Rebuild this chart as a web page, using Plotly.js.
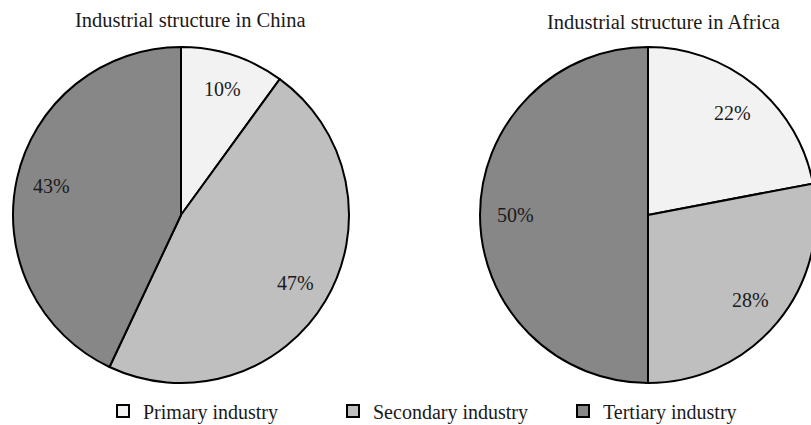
<!DOCTYPE html>
<html><head><meta charset="utf-8">
<script src="https://cdn.plot.ly/plotly-3.0.1.min.js"></script>
<style>html,body{margin:0;padding:0;overflow:hidden;background:#fff}</style>
</head><body><div id="chart"></div>
<script>
const categories = ["Primary industry", "Secondary industry", "Tertiary industry"];
const chinaValues = [10, 47, 43];
const africaValues = [22, 28, 50];
const chartTitles = ["Industrial structure in China", "Industrial structure in Africa"];
const colors = ["#f2f2f2", "#bfbfbf", "#878787"];

const W = 830, H = 425;
const font = {family: "Liberation Serif, Times New Roman, serif", color: "#1a1a1a"};

// pie placement (pixels): centre x, centre y, radius
const pies = [
  {vals: chinaValues, cx: 181, cy: 215, r: 168, title: chartTitles[0], tx: 190, ty: 20},
  {vals: africaValues, cx: 648, cy: 215, r: 168, title: chartTitles[1], tx: 663, ty: 22}
];

const data = [];
const annotations = [];
pies.forEach((p, i) => {
  data.push({
    type: "pie", values: p.vals, labels: categories, sort: false,
    direction: "clockwise", rotation: 0,
    marker: {colors: colors, line: {color: "#000", width: 2}},
    textinfo: "none", hoverinfo: "label+percent", showlegend: i === 0,
    domain: {x: [(p.cx - p.r) / W, (p.cx + p.r) / W], y: [1 - (p.cy + p.r) / H, 1 - (p.cy - p.r) / H]}
  });
  annotations.push({text: p.title, x: p.tx / W, y: 1 - p.ty / H, xref: "paper", yref: "paper",
    xanchor: "center", yanchor: "middle", showarrow: false, font: Object.assign({size: 20.5}, font)});
  // percentage labels placed along each slice's mid-angle
  const total = p.vals.reduce((a, b) => a + b, 0);
  let cum = 0;
  p.vals.forEach(v => {
    const mid = (cum + v / 2) / total * 2 * Math.PI;
    cum += v;
    const rr = p.r * 0.79;
    const x = p.cx + rr * Math.sin(mid), y = p.cy - rr * Math.cos(mid);
    annotations.push({text: Math.round(v / total * 100) + "%", x: x / W, y: 1 - y / H,
      xref: "paper", yref: "paper", xanchor: "center", yanchor: "middle", showarrow: false,
      font: Object.assign({size: 20}, font)});
  });
});

const layout = {
  width: W, height: H,
  margin: {l: 0, r: 0, t: 0, b: 0, autoexpand: false},
  paper_bgcolor: "#fff", plot_bgcolor: "#fff",
  font: Object.assign({size: 20}, font),
  legend: {orientation: "h", x: 103 / W, xanchor: "left", y: (425 - 411) / H, yanchor: "middle",
           entrywidth: 185, entrywidthmode: "pixels", font: Object.assign({size: 20}, font),
           traceorder: "normal", bgcolor: "rgba(0,0,0,0)"},
  annotations: annotations
};

Plotly.newPlot("chart", data, layout, {staticPlot: true, displayModeBar: false});
</script></body></html>
